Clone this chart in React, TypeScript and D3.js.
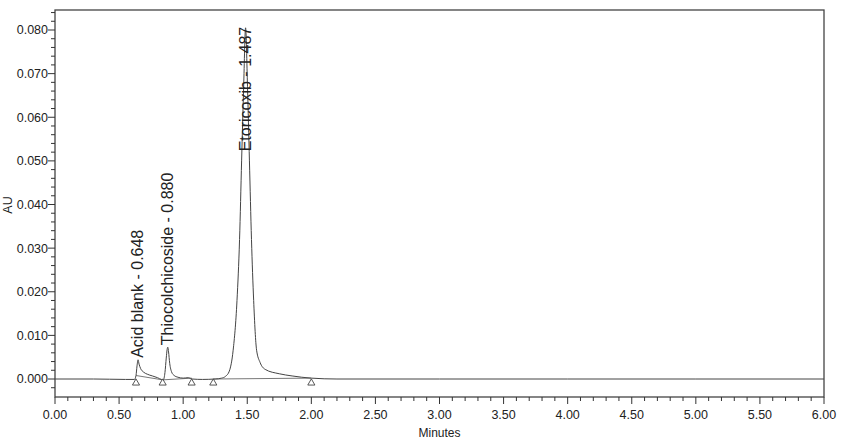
import React from "react";
import * as d3 from "d3";

const times = [0.0, 0.3, 0.55, 0.62, 0.632, 0.64, 0.648, 0.656, 0.668, 0.69, 0.72, 0.76, 0.8, 0.83, 0.845, 0.858, 0.868, 0.875, 0.88, 0.886, 0.895, 0.91, 0.93, 0.96, 1.0, 1.04, 1.07, 1.15, 1.25, 1.3, 1.33, 1.36, 1.39, 1.42, 1.44, 1.456, 1.472, 1.487, 1.502, 1.517, 1.533, 1.55, 1.573, 1.6, 1.64, 1.75, 1.85, 2.0, 2.2, 3.0, 4.0, 5.0, 6.0];
const au = [0.0, 0.0, -0.0001, -0.0001, 0.0008, 0.003, 0.0044, 0.0034, 0.0024, 0.0016, 0.0011, 0.0007, 0.0003, -0.0001, -0.0002, 0.0015, 0.0048, 0.0068, 0.0073, 0.0062, 0.0036, 0.0016, 0.0008, 0.0004, 0.0002, 0.0003, 0.0, -0.0001, 0.0, 0.0002, 0.0006, 0.0018, 0.0066, 0.018, 0.032, 0.05, 0.067, 0.0805, 0.067, 0.05, 0.032, 0.018, 0.0066, 0.0038, 0.0022, 0.0012, 0.0007, 0.0002, 0.0, 0.0, 0.0, 0.0, 0.0];

const peakNames = ["Acid blank - 0.648", "Thiocolchicoside - 0.880", "Etoricoxib - 1.487"];
const peakTimes = [0.648, 0.88, 1.487];
const peakHeights = [0.0044, 0.0073, 0.0805];

const markerTimes = [0.632, 0.84, 1.066, 1.235, 2.0];
const markerValues = [0.0008, -0.0002, 0.0002, 0.0, 0.0002];
const baselineSegments = [[0, 1], [1, 2], [3, 4]];

const xTicks = [0, 0.5, 1, 1.5, 2, 2.5, 3, 3.5, 4, 4.5, 5, 5.5, 6];
const yTicks = [0, 0.01, 0.02, 0.03, 0.04, 0.05, 0.06, 0.07, 0.08];

export default function App() {
  const W = 850, H = 441;
  const left = 55, right = 824, top = 10, bottom = 397;
  const x = d3.scaleLinear().domain([0, 6]).range([left, right]);
  const y = d3.scaleLinear().domain([0, 0.08]).range([379, 30]);
  const yMin = y.invert(bottom), yMax = y.invert(top);

  const line = d3.line<number>()
    .x((_, i) => x(times[i]))
    .y((d) => y(d))
    .curve(d3.curveMonotoneX);

  const xMinor = d3.range(0, 6.0001, 0.1).filter((v) => Math.abs(v * 2 - Math.round(v * 2)) > 1e-6);
  const yMinor = d3.range(-0.002, yMax, 0.002).filter((v) => Math.abs(v * 100 - Math.round(v * 100)) > 1e-6);

  const font = "'Liberation Sans', Arial, sans-serif";
  const tri = d3.symbol().type(d3.symbolTriangle).size(22)();

  return (
    <svg width={W} height={H} style={{ position: "absolute", left: 0, top: 0, background: "#fff" }} fontFamily={font}>
      <rect x={left} y={top} width={right - left} height={bottom - top} fill="none" stroke="#444" strokeWidth={1.3} />
      {yTicks.map((v) => (
        <g key={"y" + v}>
          <line x1={left - 7} x2={left} y1={y(v)} y2={y(v)} stroke="#333" />
          <text x={left - 7} y={y(v)} dy="0.35em" textAnchor="end" fontSize={12.5} fill="#222">{v.toFixed(3)}</text>
        </g>
      ))}
      {yMinor.filter((v) => v > yMin && v < yMax).map((v) => (
        <line key={"ym" + v} x1={left - 4} x2={left} y1={y(v)} y2={y(v)} stroke="#333" />
      ))}
      {xTicks.map((v) => (
        <g key={"x" + v}>
          <line x1={x(v)} x2={x(v)} y1={bottom} y2={bottom + 7} stroke="#333" />
          <text x={x(v)} y={bottom + 22} textAnchor="middle" fontSize={12.5} fill="#222">{v.toFixed(2)}</text>
        </g>
      ))}
      {xMinor.map((v) => (
        <line key={"xm" + v} x1={x(v)} x2={x(v)} y1={bottom} y2={bottom + 4} stroke="#333" />
      ))}
      <text x={(left + right) / 2} y={437} textAnchor="middle" fontSize={12} fill="#222">Minutes</text>
      <text transform={`translate(12,205) rotate(-90)`} textAnchor="middle" fontSize={12.5} fill="#222">AU</text>
      <path d={line(au) || ""} fill="none" stroke="#444" strokeWidth={1} />
      {baselineSegments.map(([a, b], i) => (
        <line key={"bl" + i} x1={x(markerTimes[a])} y1={y(markerValues[a])} x2={x(markerTimes[b])} y2={y(markerValues[b])} stroke="#555" strokeWidth={0.8} />
      ))}
      {markerTimes.map((t, i) => (
        <path key={"m" + i} d={tri || ""} transform={`translate(${x(t)},${y(0) + 4})`} fill="#fff" stroke="#444" strokeWidth={0.9} />
      ))}
      {peakNames.map((n, i) =>
        i < 2 ? (
          <text key={"p" + i} transform={`translate(${x(peakTimes[i]) + 5},${y(peakHeights[i]) - 2}) rotate(-90)`} fontSize={16} fill="#222">{n}</text>
        ) : (
          <text key={"p" + i} transform={`translate(${x(peakTimes[i]) + 5},${y(peakHeights[i]) - 1}) rotate(-90)`} textAnchor="end" fontSize={16} fill="#222">{n}</text>
        )
      )}
    </svg>
  );
}
